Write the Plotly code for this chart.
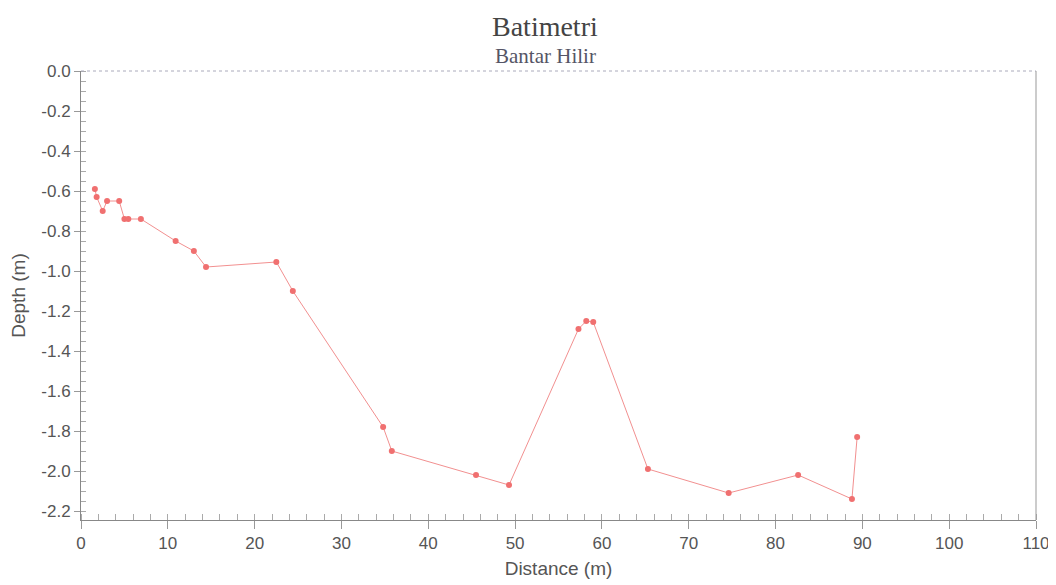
import plotly.graph_objects as go

distance = [1.6, 1.8, 2.5, 3.0, 4.4, 5.0, 5.45, 6.9, 10.9, 13.0, 14.4, 22.5, 24.4,
            34.8, 35.8, 45.5, 49.3, 57.3, 58.2, 59.0, 65.3, 74.6, 82.6, 88.8, 89.4]
depth = [-0.59, -0.63, -0.70, -0.65, -0.65, -0.74, -0.74, -0.74, -0.85, -0.90, -0.98, -0.955, -1.10,
         -1.78, -1.90, -2.02, -2.07, -1.29, -1.25, -1.255, -1.99, -2.11, -2.02, -2.14, -1.83]

ytick_vals = [0.0, -0.2, -0.4, -0.6, -0.8, -1.0, -1.2, -1.4, -1.6, -1.8, -2.0, -2.2]
ytick_text = ["0.0", "-0.2", "-0.4", "-0.6", "-0.8", "-1.0", "-1.2", "-1.4", "-1.6", "-1.8", "-2.0", "-2.2"]
xtick_vals = [0, 10, 20, 30, 40, 50, 60, 70, 80, 90, 100, 110]
xtick_text = ["0", "10", "20", "30", "40", "50", "60", "70", "80", "90", "100", "110"]

title = "Batimetri"
subtitle = "Bantar Hilir"
x_title = "Distance (m)"
y_title = "Depth (m)"

fig = go.Figure()
fig.add_trace(go.Scatter(
    x=distance, y=depth, mode="lines+markers",
    line=dict(color="#f29090", width=1),
    marker=dict(color="#f07070", size=6),
    showlegend=False,
))

sans = "Arial, Liberation Sans, sans-serif"
serif = "Liberation Serif, Times New Roman, serif"
tick_font = dict(family=sans, size=17, color="#555")
title_font = dict(family=sans, size=19, color="#555")

# the page body has an 8px margin, so the figure is offset by (8, 8)
fig.update_layout(
    width=1056, height=585,
    paper_bgcolor="white", plot_bgcolor="white",
    margin=dict(l=73, r=28, t=63, b=73),
)
fig.add_annotation(text=title, xref="paper", yref="paper", x=0.486, y=1.0, yshift=45,
                   showarrow=False, yanchor="middle",
                   font=dict(family=serif, size=28, color="#444"))
fig.add_annotation(text=subtitle, xref="paper", yref="paper", x=0.486, y=1.0, yshift=15,
                   showarrow=False, yanchor="middle",
                   font=dict(family=serif, size=21, color="#556"))

fig.update_xaxes(
    range=[0, 110], tickvals=xtick_vals, ticktext=xtick_text, showgrid=False, zeroline=False,
    automargin=False,
    showline=True, linecolor="#888", linewidth=1, mirror=False,
    ticks="outside", ticklen=8, tickcolor="#999",
    minor=dict(ticks="inside", ticklen=6, tickcolor="#aaa", dtick=2),
    tickfont=tick_font,
    title=dict(text=x_title, font=title_font, standoff=9),
)
fig.update_yaxes(
    range=[-2.245, 0], tickvals=ytick_vals, ticktext=ytick_text, showgrid=False, zeroline=False,
    automargin=False,
    showline=True, linecolor="#888", linewidth=1, mirror=False,
    ticks="outside", ticklen=6, tickcolor="#999",
    minor=dict(ticks="inside", ticklen=5, tickcolor="#aaa", dtick=0.05),
    tickfont=tick_font,
    title=dict(text=y_title, font=title_font, standoff=10),
)
# frame: top dotted line and right line
fig.add_shape(type="line", xref="paper", yref="paper", x0=0, x1=1, y0=1, y1=1,
              line=dict(color="#aab", width=1, dash="dot"))
fig.add_shape(type="line", xref="paper", yref="paper", x0=1, x1=1, y0=0, y1=1,
              line=dict(color="#999", width=1))

fig.write_html("out.html")
